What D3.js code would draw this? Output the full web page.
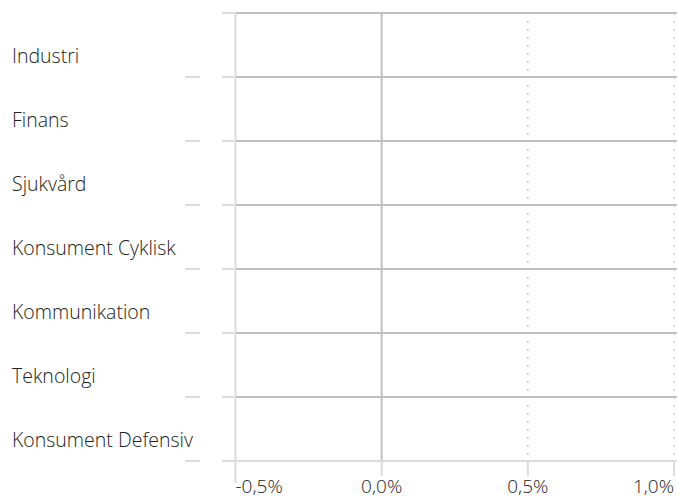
<!DOCTYPE html>
<html>
<head>
<meta charset="utf-8">
<script src="https://cdn.jsdelivr.net/npm/d3@7"></script>
<style>
  body { margin: 0; background: #fff; }
  text { font-family: "Open Sans", sans-serif; font-weight: 300; fill: #222; }
</style>
</head>
<body>
<div id="chart"></div>
<script>
// sectors, top to bottom
const categories = ["Industri", "Finans", "Sjukvård", "Konsument Cyklisk",
                    "Kommunikation", "Teknologi", "Konsument Defensiv"];
// no bars are shown in the picture, so every value is 0
const values = [0, 0, 0, 0, 0, 0, 0];
const xTicks = [-0.005, 0, 0.005, 0.01];
const xTickLabels = ["-0,5%", "0,0%", "0,5%", "1,0%"];

const width = 677, height = 499;
const light = "#dcdcdc", dark = "#c0c0c0";

const svg = d3.select('#chart')
    .append('svg')
    .attr('width', width)
    .attr('height', height);

const x = d3.scaleLinear()
    .domain([-0.005, 0.01])
    .range([235.5, 674]);

const y = d3.scaleBand()
    .domain(categories)
    .range([13, 461]);

// horizontal grid (band edges)
const edges = categories.map(c => y(c));
svg.selectAll('.hgrid')
  .data(edges)
  .enter()
  .append('line')
    .attr('x1', x(-0.005)).attr('x2', width)
    .attr('y1', d => d).attr('y2', d => d)
    .attr('stroke', dark)
    .attr('stroke-width', 2);

// vertical grid: zero solid, others dotted
svg.selectAll('.vgrid')
  .data(xTicks.slice(1))
  .enter()
  .append('line')
    .attr('x1', d => x(d)).attr('x2', d => x(d))
    .attr('y1', 13).attr('y2', 461)
    .attr('stroke', dark)
    .attr('stroke-width', d => d === 0 ? 2 : 1.5)
    .attr('stroke-dasharray', d => d === 0 ? null : '1.5,6.5');

// x axis line + ticks
svg.append('line')
    .attr('x1', x(-0.005)).attr('x2', width)
    .attr('y1', 461).attr('y2', 461)
    .attr('stroke', light).attr('stroke-width', 2);
svg.selectAll('.xtick')
  .data(xTicks.slice(1))
  .enter()
  .append('line')
    .attr('x1', d => x(d)).attr('x2', d => x(d))
    .attr('y1', 462).attr('y2', 476)
    .attr('stroke', light).attr('stroke-width', 2);

// y axis line
svg.append('line')
    .attr('x1', x(-0.005)).attr('x2', x(-0.005))
    .attr('y1', 12).attr('y2', 483)
    .attr('stroke', light).attr('stroke-width', 2);

// y ticks: short stub at axis + detached dash
const yEdges = edges.concat([y.range()[1]]);
svg.selectAll('.ystub')
  .data(yEdges)
  .enter()
  .append('line')
    .attr('x1', 222).attr('x2', x(-0.005))
    .attr('y1', d => d).attr('y2', d => d)
    .attr('stroke', light).attr('stroke-width', 2);
svg.selectAll('.ydash')
  .data(yEdges.slice(1))
  .enter()
  .append('line')
    .attr('x1', 185).attr('x2', 200)
    .attr('y1', d => d).attr('y2', d => d)
    .attr('stroke', light).attr('stroke-width', 2);

// bars
svg.selectAll('.bar')
  .data(values)
  .enter()
  .append('rect')
    .attr('x', d => x(Math.min(0, d)))
    .attr('width', d => Math.abs(x(d) - x(0)))
    .attr('y', (d, i) => y(categories[i]) + y.bandwidth() * 0.2)
    .attr('height', y.bandwidth() * 0.6)
    .attr('fill', '#1f5f8b');

// category labels
svg.selectAll('.cat')
  .data(categories)
  .enter()
  .append('text')
    .attr('x', 12)
    .attr('y', d => y(d) + y.bandwidth() / 2 + 18)
    .attr('font-size', 19.5)
    .text(d => d);

// x tick labels, edge labels pulled inward
svg.selectAll('.xlab')
  .data(xTicks)
  .enter()
  .append('text')
    .attr('x', d => x(d))
    .attr('y', 493)
    .attr('font-size', 19)
    .attr('text-anchor', (d, i) => i === 0 ? 'start' : i === xTicks.length - 1 ? 'end' : 'middle')
    .text((d, i) => xTickLabels[i]);
</script>
</body>
</html>
